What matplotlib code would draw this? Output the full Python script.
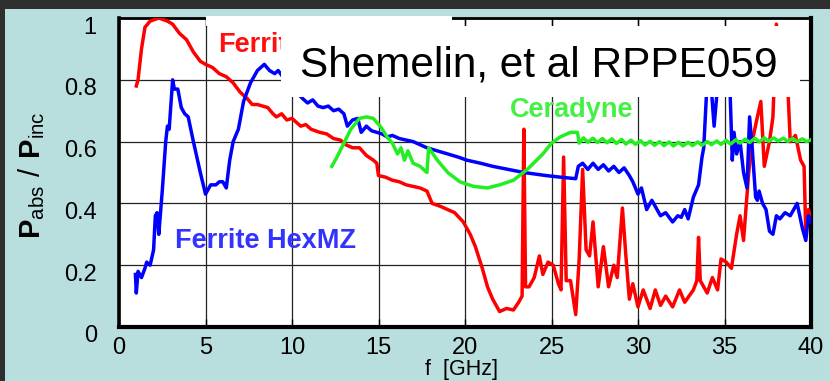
import matplotlib
matplotlib.use("Agg")
import matplotlib.pyplot as plt
from matplotlib.patches import Rectangle
from matplotlib.transforms import ScaledTranslation

plt.rcParams['font.family'] = ['Liberation Sans', 'DejaVu Sans']
plt.rcParams['mathtext.fontset'] = 'custom'
plt.rcParams['mathtext.rm'] = 'Liberation Sans'
plt.rcParams['mathtext.bf'] = 'Liberation Sans:bold'

# ---- data: absorbed / incident power vs frequency ----
red_f = [1.0, 1.1, 1.3, 1.5, 1.8, 2.3, 2.8, 3.1, 3.5, 3.9, 4.3, 4.7, 5.0, 5.4, 5.8,
         6.2, 6.6, 7.0, 7.4, 7.7, 8.0, 8.3, 8.6, 8.9, 9.1, 9.4, 9.7, 10.0, 10.5, 10.8,
         11.1, 11.6, 12.0, 12.4, 12.8, 13.1, 13.5, 13.9, 14.3, 14.7, 14.9, 15.0, 15.4,
         15.8, 16.2, 16.6, 17.0, 17.4, 17.8, 17.95, 18.1, 18.6, 19.0, 19.4, 19.9, 20.3,
         20.6, 21.0, 21.3, 21.6, 22.0, 22.4, 22.8, 23.1, 23.3, 23.4, 23.5, 23.7, 24.0,
         24.3, 24.5, 24.8, 25.1, 25.4, 25.55, 25.7, 25.85, 26.1, 26.4, 26.6, 26.8, 27.0,
         27.2, 27.4, 27.7, 28.0, 28.3, 28.6, 28.8, 29.1, 29.3, 29.5, 29.7, 30.0, 30.3,
         30.7, 31.0, 31.3, 31.6, 32.0, 32.4, 32.7, 33.2, 33.4, 33.5, 33.6, 34.0, 34.3,
         34.6, 34.8, 35.1, 35.4, 35.7, 35.9, 36.1, 36.4, 36.6, 36.9, 37.1, 37.3, 37.6,
         37.8, 38.0, 38.3, 38.6, 38.8, 39.1, 39.4, 39.6, 39.7, 39.85, 40.0]
red_v = [0.78, 0.80, 0.90, 0.97, 0.99, 1.00, 0.99, 0.98, 0.95, 0.93, 0.89, 0.86, 0.85, 0.84, 0.82,
         0.81, 0.79, 0.76, 0.74, 0.72, 0.72, 0.715, 0.71, 0.69, 0.68, 0.69, 0.67, 0.675, 0.65, 0.655,
         0.64, 0.63, 0.625, 0.61, 0.605, 0.59, 0.58, 0.58, 0.555, 0.54, 0.53, 0.49, 0.485,
         0.475, 0.47, 0.46, 0.455, 0.45, 0.44, 0.42, 0.40, 0.39, 0.38, 0.37, 0.34, 0.30,
         0.26, 0.19, 0.13, 0.09, 0.05, 0.06, 0.055, 0.08, 0.10, 0.64, 0.13, 0.13, 0.16,
         0.23, 0.17, 0.21, 0.20, 0.14, 0.12, 0.55, 0.15, 0.15, 0.04, 0.22, 0.51, 0.25,
         0.23, 0.34, 0.13, 0.26, 0.13, 0.20, 0.16, 0.385, 0.23, 0.09, 0.14, 0.065, 0.12,
         0.06, 0.12, 0.07, 0.10, 0.065, 0.12, 0.08, 0.12, 0.15, 0.29, 0.15, 0.11, 0.16,
         0.12, 0.22, 0.21, 0.19, 0.30, 0.36, 0.28, 0.50, 0.60, 0.68, 0.73, 0.52, 0.60,
         0.68, 0.98, 0.80, 0.85, 0.60, 0.62, 0.54, 0.52, 0.30, 0.38, 0.35]

blue_f = [0.95, 1.0, 1.1, 1.3, 1.5, 1.6, 1.8, 2.0, 2.1, 2.2, 2.3, 2.5, 2.7, 2.8, 2.9,
          3.1, 3.2, 3.4, 3.6, 3.8, 4.0, 4.3, 4.7, 5.0, 5.3, 5.6, 5.8, 6.0, 6.2, 6.4,
          6.6, 6.9, 7.2, 7.6, 8.0, 8.4, 8.7, 9.0, 9.2, 9.6, 10.1, 10.6, 10.9, 11.2,
          11.5, 11.8, 12.1, 12.4, 12.7, 13.0, 13.2, 13.5, 13.8, 14.0, 14.3, 14.6, 14.9,
          15.2, 15.5, 15.8, 16.2, 16.6, 17.0, 17.4, 17.8, 18.4, 19.0, 19.6, 20.1, 20.9,
          21.6, 22.5, 23.4, 24.7, 25.5, 26.4, 26.55, 26.8, 27.1, 27.4, 27.7, 28.0, 28.3,
          28.6, 28.9, 29.2, 29.5, 29.7, 30.0, 30.2, 30.5, 30.8, 31.0, 31.3, 31.6, 32.0,
          32.3, 32.5, 32.7, 32.9, 33.2, 33.5, 33.7, 33.8, 34.0, 34.2, 34.4, 34.6, 34.9,
          35.3, 35.45, 35.55, 35.7, 35.9, 36.1, 36.3, 36.45, 36.6, 36.8, 36.9, 37.0, 37.2,
          37.4, 37.6, 37.8, 38.0, 38.2, 38.5, 38.8, 39.0, 39.2, 39.5, 39.7, 39.85, 40.0]
blue_v = [0.17, 0.11, 0.18, 0.16, 0.19, 0.21, 0.20, 0.25, 0.36, 0.37, 0.30, 0.44, 0.60, 0.65, 0.64,
          0.80, 0.77, 0.77, 0.71, 0.69, 0.68, 0.60, 0.50, 0.43, 0.46, 0.46, 0.47, 0.47, 0.45, 0.54,
          0.60, 0.64, 0.73, 0.79, 0.83, 0.85, 0.83, 0.82, 0.83, 0.80, 0.77, 0.74, 0.725, 0.735,
          0.715, 0.71, 0.715, 0.70, 0.705, 0.69, 0.65, 0.67, 0.675, 0.63, 0.65, 0.635, 0.63,
          0.625, 0.615, 0.62, 0.61, 0.605, 0.60, 0.59, 0.58, 0.57, 0.56, 0.55, 0.54, 0.53,
          0.52, 0.51, 0.50, 0.49, 0.485, 0.48, 0.52, 0.53, 0.51, 0.53, 0.51, 0.525, 0.505,
          0.52, 0.50, 0.515, 0.49, 0.47, 0.43, 0.45, 0.38, 0.41, 0.39, 0.36, 0.37, 0.34,
          0.36, 0.355, 0.38, 0.35, 0.42, 0.46, 0.55, 0.58, 0.80, 0.80, 0.65, 0.78, 0.85,
          0.80, 0.54, 0.63, 0.56, 0.60, 0.50, 0.45, 0.68, 0.58, 0.42, 0.41, 0.44, 0.40,
          0.38, 0.31, 0.30, 0.36, 0.35, 0.37, 0.36, 0.38, 0.40, 0.32, 0.28, 0.36, 0.34]

green_f = [12.3, 12.6, 13.0, 13.4, 13.9, 14.3, 14.7, 15.1, 15.5, 15.8, 16.1, 16.3, 16.5,
           16.7, 17.0, 17.4, 17.8, 17.9, 18.4, 19.0, 19.7, 20.5, 21.3, 22.0, 22.8, 23.6,
           24.5, 25.0, 25.5, 26.1, 26.5, 26.6, 26.85, 27.1, 27.4, 27.65, 27.95, 28.2, 28.5,
           28.75, 29.05, 29.3, 29.6, 29.85, 30.15, 30.4, 30.7, 30.95, 31.25, 31.5, 31.8,
           32.05, 32.35, 32.6, 32.9, 33.15, 33.45, 33.7, 34.0, 34.25, 34.55, 34.8, 35.1,
           35.35, 35.65, 35.9, 36.2, 36.45, 36.75, 37.0, 37.3, 37.55, 37.85, 38.1, 38.4,
           38.65, 38.95, 39.2, 39.5, 39.75, 40.0]
green_v = [0.52, 0.55, 0.595, 0.64, 0.675, 0.68, 0.675, 0.65, 0.615, 0.595, 0.56, 0.58, 0.54,
           0.57, 0.53, 0.52, 0.50, 0.58, 0.54, 0.50, 0.47, 0.455, 0.45, 0.46, 0.475, 0.51,
           0.56, 0.595, 0.615, 0.63, 0.63, 0.595, 0.612, 0.598, 0.611, 0.597, 0.610, 0.596, 0.609,
           0.594, 0.607, 0.592, 0.605, 0.591, 0.603, 0.589, 0.601, 0.588, 0.600, 0.587, 0.599,
           0.586, 0.598, 0.586, 0.598, 0.587, 0.599, 0.588, 0.600, 0.590, 0.602, 0.591, 0.604,
           0.592, 0.606, 0.595, 0.608, 0.597, 0.611, 0.599, 0.612, 0.601, 0.612, 0.602, 0.611,
           0.601, 0.610, 0.600, 0.609, 0.600, 0.606]

x_ticks = [0, 5, 10, 15, 20, 25, 30, 35, 40]
y_ticks = [0, 0.2, 0.4, 0.6, 0.8, 1]
y_tick_labels = ['0', '0.2', '0.4', '0.6', '0.8', '1']

W, H = 830, 381
BG = '#b9dede'

fig = plt.figure(figsize=(W / 100, H / 100), dpi=100, facecolor=BG)

# dark frame strips along top and left edge of the slide
fig.add_artist(Rectangle((0, 1 - 9 / H), 1, 9 / H, transform=fig.transFigure,
                         facecolor='#2f2f2f', edgecolor='none', zorder=0))
fig.add_artist(Rectangle((0, 0), 5 / W, 1, transform=fig.transFigure,
                         facecolor='#2f2f2f', edgecolor='none', zorder=0))

ax = fig.add_axes([119 / W, 54 / H, (811 - 119) / W, (327 - 18) / H])
ax.set_facecolor('white')
ax.set_xlim(0, 40)
ax.set_ylim(0, 1)

ax.grid(True, color='#222222', linewidth=0.9, zorder=0)
ax.set_axisbelow(True)

lw = 2.5
ax.plot(red_f, red_v, color='#ff0000', lw=lw, zorder=3, solid_joinstyle='round')
ax.plot(blue_f, blue_v, color='#0000ff', lw=lw, zorder=3, solid_joinstyle='round')
ax.plot(green_f, green_v, color='#22ee22', lw=lw, zorder=4, solid_joinstyle='round')

ax.set_xticks(x_ticks)
ax.set_xticklabels([str(t) for t in x_ticks])
ax.set_yticks(y_ticks)
ax.set_yticklabels(y_tick_labels)
ax.tick_params(axis='x', direction='in', length=6, width=1, top=True, bottom=True,
               labelsize=17, pad=7, colors='black')
ax.tick_params(axis='y', direction='in', length=0, labelsize=17, pad=16)
for lab in ax.get_yticklabels():
    lab.set_transform(lab.get_transform() + ScaledTranslation(0, -7 / 100, fig.dpi_scale_trans))

for side, w in [('left', 2.6), ('bottom', 3.0), ('right', 3.0), ('top', 2.0)]:
    ax.spines[side].set_linewidth(w)
    ax.spines[side].set_color('black')

# series labels
ax.text(5.75, 0.89, 'Ferrite', color='#ff1010', fontsize=19.5, fontweight='bold',
        va='baseline', ha='left', zorder=2)
ax.text(3.25, 0.256, 'Ferrite HexMZ', color='#3333ff', fontsize=19.5, fontweight='bold',
        va='baseline', ha='left', zorder=2)
ax.text(22.6, 0.68, 'Ceradyne', color='#44f044', fontsize=19.5, fontweight='bold',
        va='baseline', ha='left', zorder=2)

# axis titles
fig.text(32 / W, 1 - 175 / H, r'$\mathbf{P}_{\mathrm{abs}}\ /\ \mathbf{P}_{\mathrm{inc}}$',
         rotation=90, fontsize=21, ha='center', va='center')
fig.text(461 / W, 0.6 / H, 'f  [GHz]', fontsize=15.5, ha='center', va='bottom')

# citation box over the upper part of the plot
fig.add_artist(Rectangle((206 / W, 1 - 26 / H), (452 - 206) / W, (26 - 16) / H,
                         transform=fig.transFigure, facecolor='white',
                         edgecolor='none', zorder=5))
fig.add_artist(Rectangle((281 / W, 1 - 97 / H), (800 - 281) / W, (97 - 26) / H,
                         transform=fig.transFigure, facecolor='white',
                         edgecolor='none', zorder=5))
fig.text(300 / W, 1 - 77 / H, 'Shemelin, et al RPPE059', fontsize=30.5,
         ha='left', va='baseline', color='black', zorder=6)

fig.savefig('out.png', dpi=100, facecolor=BG)
